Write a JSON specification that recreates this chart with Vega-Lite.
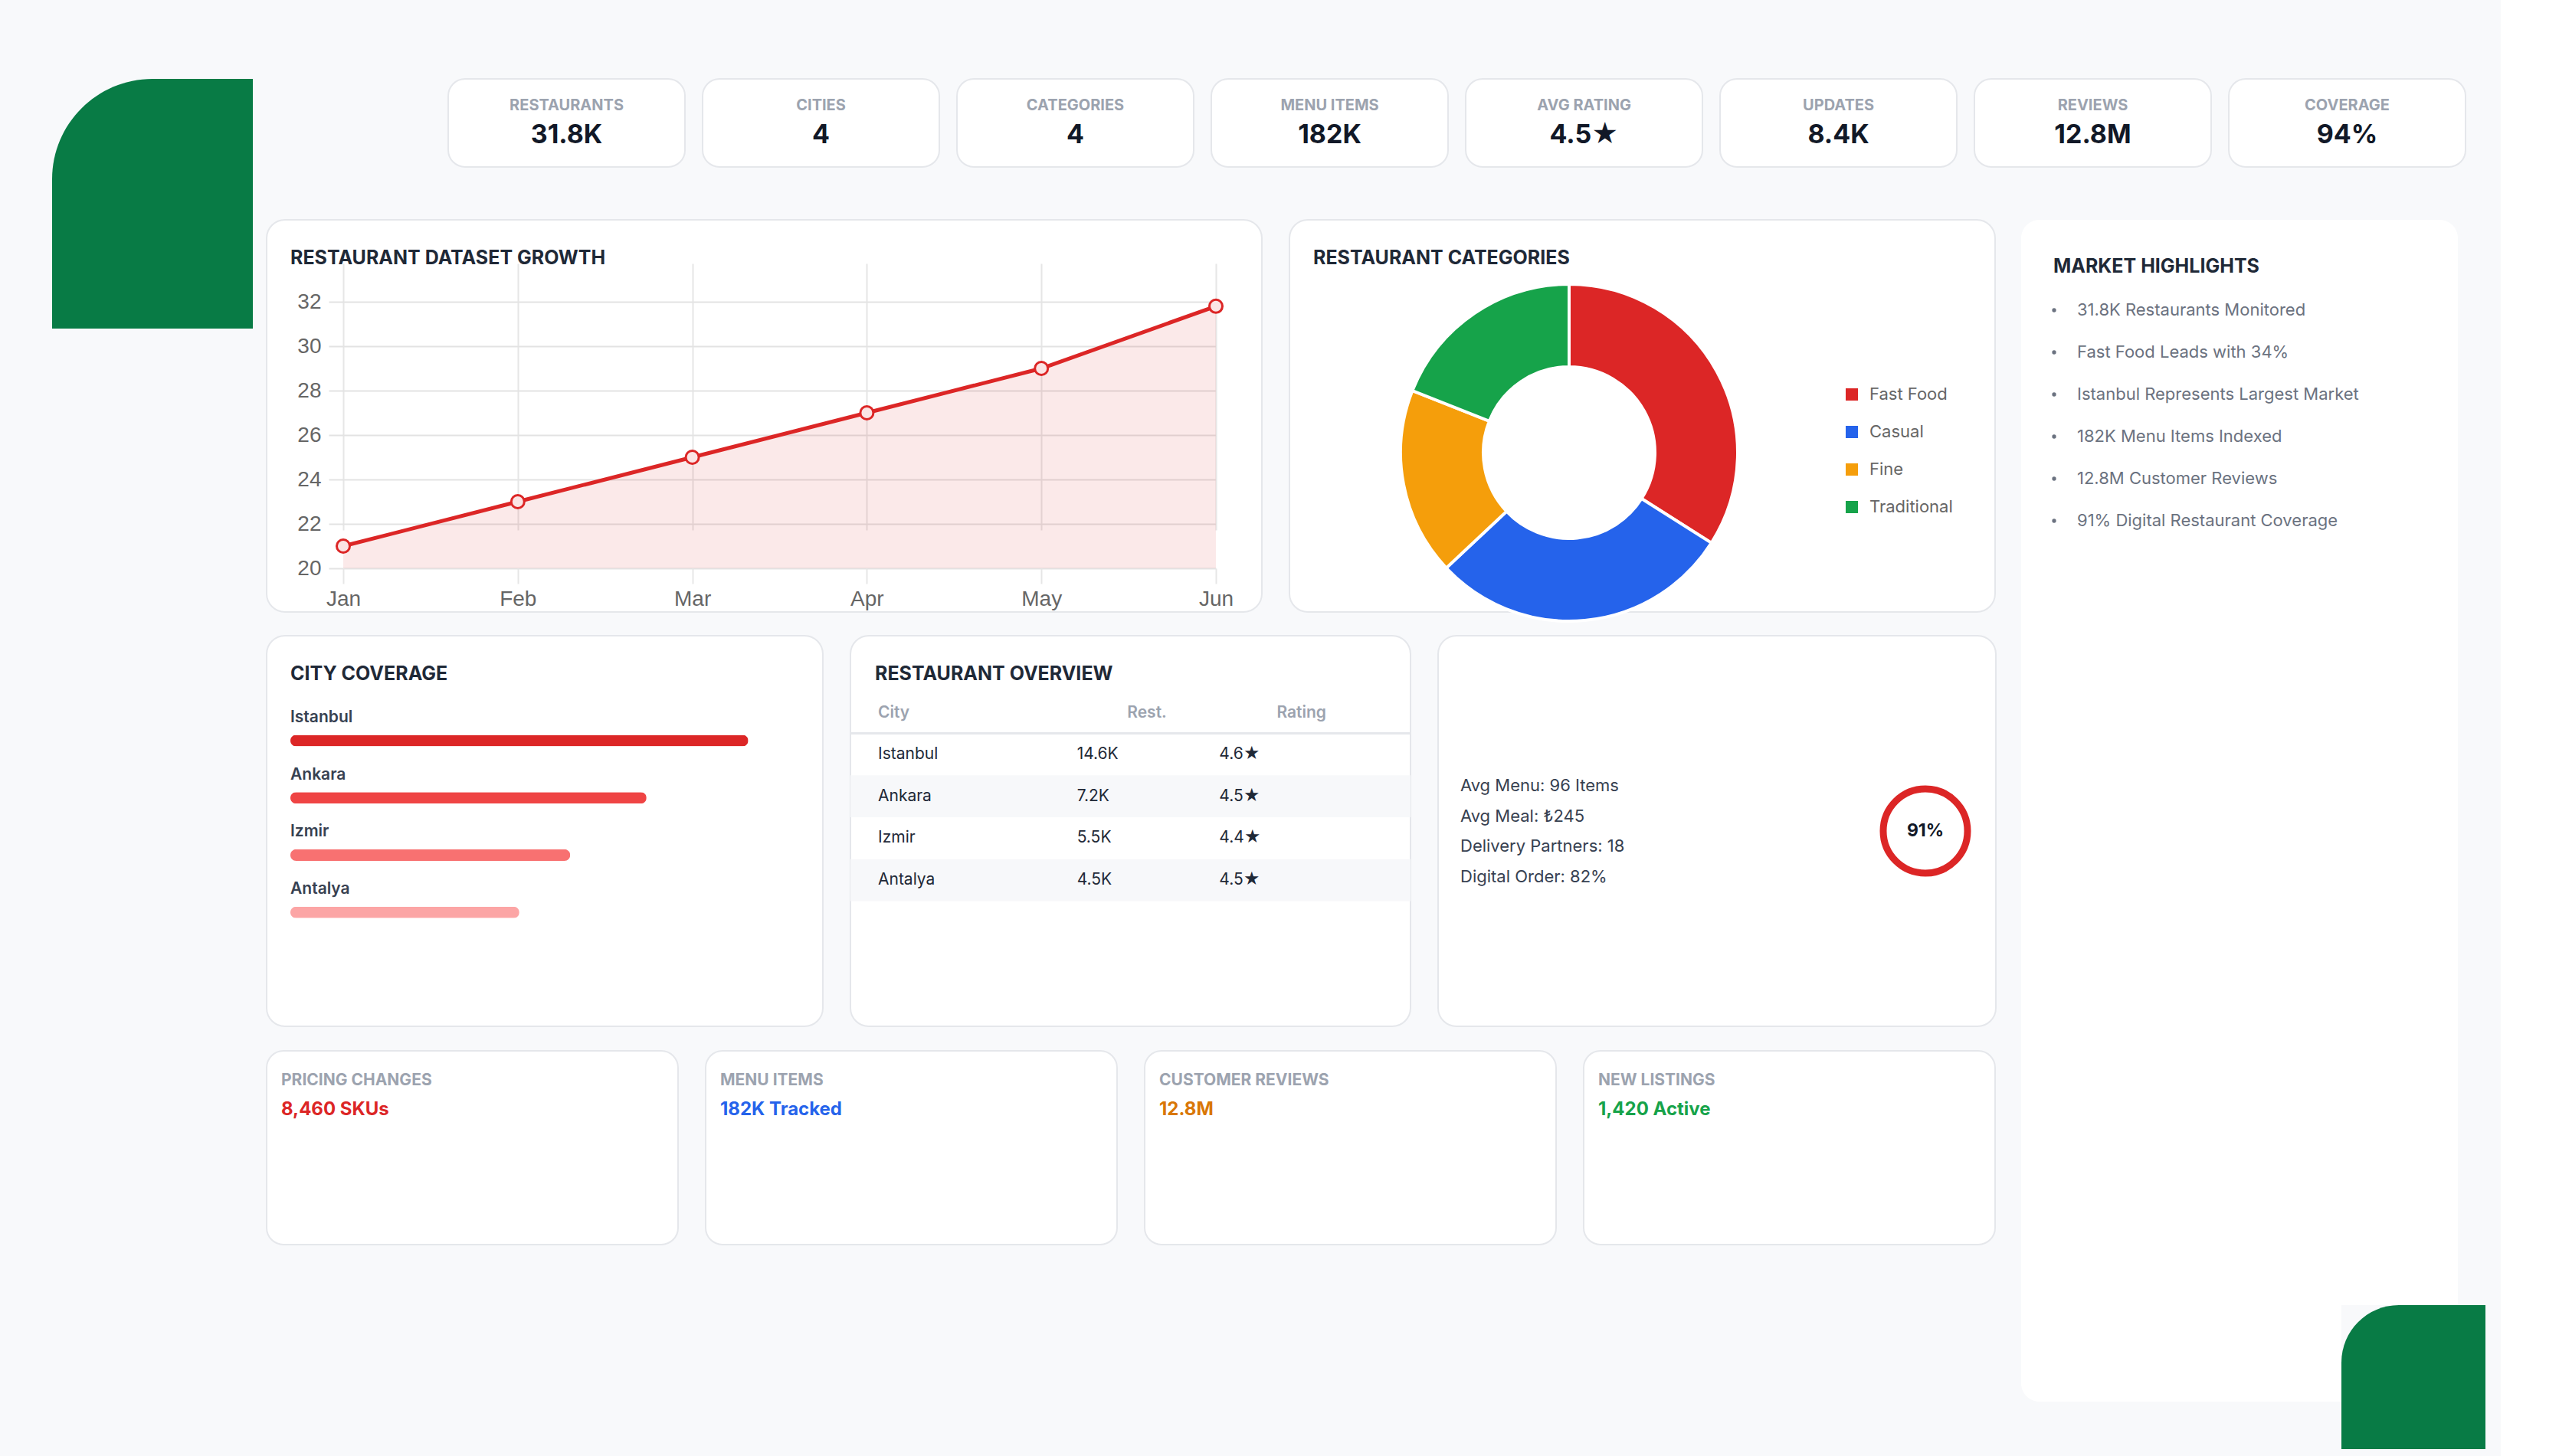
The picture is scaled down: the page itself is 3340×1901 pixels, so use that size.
{
  "$schema": "https://vega.github.io/schema/vega-lite/v6.json",
  "background": "#f8f9fb",
  "padding": {"left": 68, "top": 102, "right": 20, "bottom": 9},
  "spacing": 17,
  "resolve": {"scale": {"color": "independent"}, "legend": {"color": "independent"}},
  "config": {
    "view": {"stroke": null},
    "font": "Inter",
    "title": {"font": "Inter", "fontSize": 25, "fontWeight": 700, "color": "#1f2937", "anchor": "start", "frame": "group", "baseline": "middle", "offset": -63},
    "axis": {"labelFont": "Liberation Sans"},
    "legend": {"labelFont": "Inter"}
  },
  "hconcat": [
    {
      "width": 262,
      "height": 326,
      "data": {"values": [{"element": "accent"}]},
      "mark": {"type": "rect", "fill": "#087b45", "cornerRadiusTopLeft": 175},
      "encoding": {}
    },
    {
      "resolve": {"scale": {"color": "independent"}, "legend": {"color": "independent"}},
      "vconcat": [
        {
          "width": 2870,
          "height": 115,
          "data": {"values": [
            {"metric": "RESTAURANTS", "value": "31.8K"},
            {"metric": "CITIES", "value": "4"},
            {"metric": "CATEGORIES", "value": "4"},
            {"metric": "MENU ITEMS", "value": "182K"},
            {"metric": "AVG RATING", "value": "4.5★"},
            {"metric": "UPDATES", "value": "8.4K"},
            {"metric": "REVIEWS", "value": "12.8M"},
            {"metric": "COVERAGE", "value": "94%"}
          ]},
          "encoding": {
            "x": {"field": "metric", "type": "nominal", "sort": null, "axis": null,
                  "scale": {"type": "band", "paddingInner": 0.0693, "paddingOuter": 0.357, "align": 1}}
          },
          "layer": [
            {"mark": {"type": "rect", "fill": "#ffffff", "stroke": "#e5e7eb", "strokeWidth": 2, "cornerRadius": 22}},
            {"mark": {"type": "text", "dy": -23, "fontSize": 20, "fontWeight": 700, "fill": "#9ca3af"},
             "encoding": {"text": {"field": "metric"}}},
            {"mark": {"type": "text", "dy": 16, "fontSize": 34, "fontWeight": 700, "fill": "#111827"},
             "encoding": {"text": {"field": "value"}}}
          ]
        },
        {
          "resolve": {"scale": {"color": "independent"}, "legend": {"color": "independent"}},
          "hconcat": [
            {
              "resolve": {"scale": {"color": "independent"}, "legend": {"color": "independent"}},
              "vconcat": [
                {
                  "resolve": {"scale": {"color": "independent"}, "legend": {"color": "independent"}},
                  "vconcat": [
                    {
                      "resolve": {"scale": {"color": "independent"}, "legend": {"color": "independent"}},
                      "hconcat": [
                        {
                          "width": 1299,
                          "height": 512,
                          "view": {"fill": "#ffffff", "stroke": "#e5e7eb", "strokeWidth": 2, "cornerRadius": 24},
                          "title": {"text": "RESTAURANT DATASET GROWTH", "dx": 31},
                          "data": {"values": [
                            {"month": "Jan", "restaurants": 21},
                            {"month": "Feb", "restaurants": 23},
                            {"month": "Mar", "restaurants": 25},
                            {"month": "Apr", "restaurants": 27},
                            {"month": "May", "restaurants": 29},
                            {"month": "Jun", "restaurants": 31.8}
                          ]},
                          "encoding": {
                            "x": {"field": "month", "type": "ordinal", "sort": null,
                                  "scale": {"type": "point", "range": [100, 1239], "padding": 0},
                                  "axis": {"title": null, "domain": false, "offset": -57, "grid": true, "gridColor": "#e6e6e6", "gridWidth": 2,
                                           "ticks": true, "tickSize": 20, "tickColor": "#e6e6e6", "tickWidth": 2,
                                           "labelPadding": 6, "labelFontSize": 28, "labelColor": "#666666", "labelAngle": 0}},
                            "y": {"field": "restaurants", "type": "quantitative",
                                  "scale": {"domain": [20, 32], "range": [455, 107], "nice": false, "zero": false},
                                  "axis": {"title": null, "domain": false, "offset": -100, "values": [20, 22, 24, 26, 28, 30, 32],
                                           "grid": true, "gridColor": "#e3e3e3", "gridWidth": 2,
                                           "ticks": true, "tickSize": 19, "tickColor": "#e3e3e3", "tickWidth": 2,
                                           "labelPadding": 10, "labelFontSize": 28, "labelColor": "#666666"}}
                          },
                          "layer": [
                            {"mark": {"type": "area", "color": "#dc2626", "opacity": 0.1}, "encoding": {"y2": {"datum": 20}}},
                            {"mark": {"type": "line", "color": "#dc2626", "strokeWidth": 5}},
                            {"mark": {"type": "point", "shape": "circle", "size": 290, "filled": true, "fill": "#fbe4e4", "stroke": "#dc2626", "strokeWidth": 3, "opacity": 1}}
                          ]
                        },
                        {
                          "width": 921,
                          "height": 512,
                          "view": {"fill": "#ffffff", "stroke": "#e5e7eb", "strokeWidth": 2, "cornerRadius": 24},
                          "title": {"text": "RESTAURANT CATEGORIES", "dx": 31},
                          "data": {"values": [
                            {"category": "Fast Food", "share": 34},
                            {"category": "Casual", "share": 29},
                            {"category": "Fine", "share": 18},
                            {"category": "Traditional", "share": 19}
                          ]},
                          "transform": [{"window": [{"op": "row_number", "as": "rank"}]}],
                          "mark": {"type": "arc", "innerRadius": 112, "outerRadius": 220, "stroke": "#ffffff", "strokeWidth": 4, "x": 365, "y": 304},
                          "encoding": {
                            "theta": {"field": "share", "type": "quantitative", "stack": true},
                            "order": {"field": "rank", "type": "quantitative"},
                            "color": {"field": "category", "type": "nominal", "sort": null,
                                      "scale": {"domain": ["Fast Food", "Casual", "Fine", "Traditional"], "range": ["#dc2626", "#2563eb", "#f59e0b", "#16a34a"]},
                                      "legend": {"orient": "none", "legendX": 723, "legendY": 217, "title": null, "padding": 0,
                                                 "symbolType": "square", "symbolSize": 256, "symbolStrokeWidth": 0, "symbolOpacity": 1,
                                                 "labelFontSize": 22, "labelColor": "#666666", "labelOffset": 12, "rowPadding": 27}}
                          }
                        }
                      ],
                      "spacing": 34
                    },
                    {
                      "resolve": {"scale": {"color": "independent"}, "legend": {"color": "independent"}},
                      "hconcat": [
                        {
                          "width": 726,
                          "height": 510,
                          "view": {"fill": "#ffffff", "stroke": "#e5e7eb", "strokeWidth": 2, "cornerRadius": 24},
                          "title": {"text": "CITY COVERAGE", "dx": 31},
                          "data": {"values": [
                            {"city": "Istanbul", "coverage": 90},
                            {"city": "Ankara", "coverage": 70},
                            {"city": "Izmir", "coverage": 55},
                            {"city": "Antalya", "coverage": 45}
                          ]},
                          "encoding": {
                            "y": {"field": "city", "type": "nominal", "sort": null, "axis": null,
                                  "scale": {"type": "band", "range": [99.5, 398.5], "paddingInner": 0, "paddingOuter": 0}}
                          },
                          "layer": [
                            {"mark": {"type": "bar", "size": 15, "cornerRadius": 7.5},
                             "encoding": {
                               "x": {"field": "coverage", "type": "quantitative", "scale": {"domain": [0, 100], "range": [31, 695]}, "axis": null},
                               "color": {"field": "city", "type": "nominal", "sort": null,
                                         "scale": {"domain": ["Istanbul", "Ankara", "Izmir", "Antalya"], "range": ["#dc2626", "#ef4444", "#f87171", "#fca5a5"]},
                                         "legend": null}
                             }},
                            {"mark": {"type": "text", "align": "left", "dy": -30, "fontSize": 21, "fontWeight": 600, "fill": "#374151"},
                             "encoding": {"x": {"datum": 0, "type": "quantitative"}, "text": {"field": "city"}}}
                          ]
                        },
                        {
                          "width": 731,
                          "height": 510,
                          "view": {"fill": "#ffffff", "stroke": "#e5e7eb", "strokeWidth": 2, "cornerRadius": 24},
                          "title": {"text": "RESTAURANT OVERVIEW", "dx": 32},
                          "data": {"values": [
                            {"city": "Istanbul", "restaurants": "14.6K", "rating": "4.6★"},
                            {"city": "Ankara", "restaurants": "7.2K", "rating": "4.5★"},
                            {"city": "Izmir", "restaurants": "5.5K", "rating": "4.4★"},
                            {"city": "Antalya", "restaurants": "4.5K", "rating": "4.5★"}
                          ]},
                          "encoding": {
                            "y": {"field": "city", "type": "nominal", "sort": null, "axis": null,
                                  "scale": {"type": "band", "domain": ["Istanbul", "Ankara", "Izmir", "Antalya"], "range": [127.5, 346.5], "paddingInner": 0, "paddingOuter": 0}}
                          },
                          "layer": [
                            {"transform": [{"window": [{"op": "row_number", "as": "row"}]}, {"filter": "datum.row % 2 == 0"}],
                             "mark": {"type": "rect", "fill": "#f7f8fa"}},
                            {"mark": {"type": "rule", "stroke": "#e5e7eb", "strokeWidth": 3},
                             "encoding": {"y": {"datum": "Istanbul", "type": "nominal", "bandPosition": 0}}},
                            {"mark": {"type": "text", "align": "left", "dx": 4, "fontSize": 21, "fill": "#1f2937"},
                             "encoding": {
                               "x": {"datum": "City", "type": "nominal", "bandPosition": 0, "axis": null,
                                     "scale": {"type": "band", "domain": ["City", "Rest.", "Rating"], "range": [32, 700], "paddingInner": 0, "paddingOuter": 0}},
                               "text": {"field": "city"}}},
                            {"mark": {"type": "text", "align": "left", "dx": 41, "fontSize": 21, "fill": "#1f2937"},
                             "encoding": {"x": {"datum": "Rest.", "type": "nominal", "bandPosition": 0}, "text": {"field": "restaurants"}}},
                            {"mark": {"type": "text", "align": "left", "dx": 4, "fontSize": 21, "fill": "#1f2937"},
                             "encoding": {"x": {"datum": "Rating", "type": "nominal", "bandPosition": 0}, "text": {"field": "rating"}}},
                            {"data": {"values": [{"column": "City"}]},
                             "mark": {"type": "text", "align": "left", "dx": 4, "dy": -54, "fontSize": 21, "fontWeight": 600, "fill": "#9ca3af"},
                             "encoding": {"x": {"field": "column", "type": "nominal", "bandPosition": 0}, "y": {"datum": "Istanbul", "type": "nominal"}, "text": {"field": "column"}}},
                            {"data": {"values": [{"column": "Rest."}]},
                             "mark": {"type": "text", "align": "center", "dx": 21, "dy": -54, "fontSize": 21, "fontWeight": 600, "fill": "#9ca3af"},
                             "encoding": {"x": {"field": "column", "type": "nominal"}, "y": {"datum": "Istanbul", "type": "nominal"}, "text": {"field": "column"}}},
                            {"data": {"values": [{"column": "Rating"}]},
                             "mark": {"type": "text", "align": "center", "dx": 0, "dy": -54, "fontSize": 21, "fontWeight": 600, "fill": "#9ca3af"},
                             "encoding": {"x": {"field": "column", "type": "nominal"}, "y": {"datum": "Istanbul", "type": "nominal"}, "text": {"field": "column"}}}
                          ]
                        },
                        {
                          "width": 728,
                          "height": 510,
                          "view": {"fill": "#ffffff", "stroke": "#e5e7eb", "strokeWidth": 2, "cornerRadius": 24},
                          "layer": [
                            {
                              "data": {"values": [
                                {"stat": "Avg Menu: 96 Items"},
                                {"stat": "Avg Meal: ₺245"},
                                {"stat": "Delivery Partners: 18"},
                                {"stat": "Digital Order: 82%"}
                              ]},
                              "mark": {"type": "text", "align": "left", "fontSize": 22, "fill": "#374151"},
                              "encoding": {
                                "x": {"datum": "details", "type": "nominal", "axis": null,
                                      "scale": {"type": "point", "domain": ["details", "coverage"], "range": [29, 636], "padding": 0}},
                                "y": {"field": "stat", "type": "nominal", "sort": null, "axis": null,
                                      "scale": {"type": "point", "range": [196, 315], "padding": 0}},
                                "text": {"field": "stat"}
                              }
                            },
                            {
                              "data": {"values": [{"coverage": "91%"}]},
                              "mark": {"type": "point", "shape": "circle", "size": 12100, "filled": false, "stroke": "#dc2626", "strokeWidth": 9, "opacity": 1},
                              "encoding": {"x": {"datum": "coverage", "type": "nominal"}}
                            },
                            {
                              "data": {"values": [{"coverage": "91%"}]},
                              "mark": {"type": "text", "fontSize": 23, "fontWeight": 700, "fill": "#111827"},
                              "encoding": {"x": {"datum": "coverage", "type": "nominal"}, "text": {"field": "coverage"}}
                            }
                          ]
                        }
                      ],
                      "spacing": 32
                    }
                  ],
                  "spacing": 9
                },
                {
                  "width": 2256,
                  "height": 253,
                  "data": {"values": [
                    {"metric": "PRICING CHANGES", "value": "8,460 SKUs"},
                    {"metric": "MENU ITEMS", "value": "182K Tracked"},
                    {"metric": "CUSTOMER REVIEWS", "value": "12.8M"},
                    {"metric": "NEW LISTINGS", "value": "1,420 Active"}
                  ]},
                  "encoding": {
                    "x": {"field": "metric", "type": "nominal", "sort": null, "axis": null,
                          "scale": {"type": "band", "paddingInner": 0.0628, "paddingOuter": 0}}
                  },
                  "layer": [
                    {"mark": {"type": "rect", "fill": "#ffffff", "stroke": "#e5e7eb", "strokeWidth": 2, "cornerRadius": 22}},
                    {"mark": {"type": "text", "align": "left", "dx": 19, "dy": -88, "fontSize": 21, "fontWeight": 700, "fill": "#9ca3af"},
                     "encoding": {"x": {"field": "metric", "type": "nominal", "sort": null, "bandPosition": 0}, "text": {"field": "metric"}}},
                    {"mark": {"type": "text", "align": "left", "dx": 19, "dy": -50, "fontSize": 24, "fontWeight": 700},
                     "encoding": {
                       "x": {"field": "metric", "type": "nominal", "sort": null, "bandPosition": 0},
                       "text": {"field": "value"},
                       "color": {"field": "metric", "type": "nominal", "sort": null,
                                 "scale": {"domain": ["PRICING CHANGES", "MENU ITEMS", "CUSTOMER REVIEWS", "NEW LISTINGS"], "range": ["#dc2626", "#2563eb", "#d97706", "#16a34a"]},
                                 "legend": null}
                     }}
                  ]
                }
              ],
              "spacing": 30
            },
            {
              "vconcat": [
                {
                  "width": 570,
                  "height": 1417,
                  "title": {"text": "MARKET HIGHLIGHTS", "dx": 42, "offset": -74},
                  "layer": [
                    {"data": {"values": [{"element": "card"}]},
                     "mark": {"type": "rect", "fill": "#ffffff", "cornerRadiusTopLeft": 24, "cornerRadiusTopRight": 24},
                     "encoding": {}},
                    {"data": {"values": [
                       {"highlight": "31.8K Restaurants Monitored"},
                       {"highlight": "Fast Food Leads with 34%"},
                       {"highlight": "Istanbul Represents Largest Market"},
                       {"highlight": "182K Menu Items Indexed"},
                       {"highlight": "12.8M Customer Reviews"},
                       {"highlight": "91% Digital Restaurant Coverage"}
                     ]},
                     "encoding": {
                       "y": {"field": "highlight", "type": "nominal", "sort": null, "axis": null,
                             "scale": {"type": "point", "range": [118, 393], "padding": 0}}
                     },
                     "layer": [
                       {"mark": {"type": "point", "shape": "circle", "filled": true, "size": 28, "color": "#6b7280", "opacity": 1},
                        "encoding": {"x": {"datum": "marker", "type": "nominal", "axis": null,
                                           "scale": {"type": "point", "domain": ["marker", "item"], "range": [43, 73], "padding": 0}}}},
                       {"mark": {"type": "text", "align": "left", "fontSize": 22, "fill": "#6b7280"},
                        "encoding": {"x": {"datum": "item", "type": "nominal"}, "text": {"field": "highlight"}}}
                     ]}
                  ]
                },
                {
                  "hconcat": [
                    {
                      "width": 418,
                      "height": 126,
                      "data": {"values": [{"element": "card"}]},
                      "mark": {"type": "rect", "fill": "#ffffff", "cornerRadiusBottomLeft": 24},
                      "encoding": {}
                    },
                    {
                      "width": 188,
                      "height": 188,
                      "data": {"values": [{"element": "accent"}]},
                      "mark": {"type": "rect", "fill": "#087b45", "cornerRadiusTopLeft": 75},
                      "encoding": {}
                    }
                  ],
                  "spacing": 0
                }
              ],
              "spacing": 0
            }
          ],
          "spacing": 32
        }
      ],
      "spacing": 67
    }
  ]
}
